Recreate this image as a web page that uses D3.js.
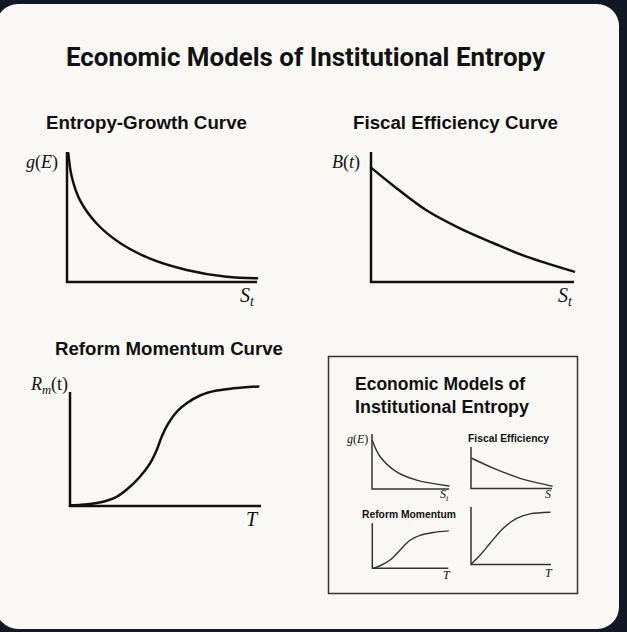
<!DOCTYPE html>
<html>
<head>
<meta charset="utf-8">
<script src="https://cdn.jsdelivr.net/npm/d3@7"></script>
<style>
  html, body { margin: 0; padding: 0; background: #121826; }
  svg { display: block; }
</style>
</head>
<body>
<script>
// chart text
var mainTitle = "Economic Models of Institutional Entropy"
var panelTitles = ["Entropy-Growth Curve", "Fiscal Efficiency Curve", "Reform Momentum Curve"]
var insetTitle = ["Economic Models of", "Institutional Entropy"]
var miniTitles = ["Fiscal Efficiency", "Reform Momentum"]

// curves, x in [0,10], y in [0,1]
var entropyX = [0.07, 0.25, 0.68, 1.56, 2.79, 4.37, 6.30, 8.40, 10]
var entropyY = [0.99, 0.81, 0.63, 0.45, 0.30, 0.18, 0.093, 0.04, 0.028]

var fiscalX = [0, 1.07, 2.71, 4.38, 6.02, 7.66, 10]
var fiscalY = [0.88, 0.745, 0.554, 0.413, 0.30, 0.195, 0.08]

var reformX = [0, 0.6, 1.22, 1.83, 2.44, 3.05, 3.66, 4.19, 4.54, 4.80, 5.15, 5.59, 6.11, 6.81, 7.68, 8.55, 9.86]
var reformY = [0.005, 0.01, 0.02, 0.036, 0.07, 0.136, 0.225, 0.328, 0.431, 0.533, 0.636, 0.725, 0.79, 0.85, 0.888, 0.905, 0.92]

// small copies inside the inset box
var miniEntropyX = [0.05, 1.0, 3.2, 5.8, 10]
var miniEntropyY = [0.88, 0.6, 0.31, 0.16, 0.055]

var miniFiscalX = [0.09, 2.75, 6.05, 10]
var miniFiscalY = [0.55, 0.37, 0.185, 0.045]

var miniReformX = [0.13, 1.23, 2.33, 3.64, 4.96, 6.28, 8.03, 10]
var miniReformY = [0, 0.06, 0.15, 0.33, 0.51, 0.6, 0.65, 0.68]

var miniGrowthX = [0.09, 1.13, 2.38, 4.04, 5.71, 7.38, 9.88]
var miniGrowthY = [0.02, 0.17, 0.385, 0.66, 0.84, 0.92, 0.95]

var width = 627, height = 632
var ink = "#111"

var svg = d3.select("body").append("svg")
    .attr("width", width)
    .attr("height", height)

svg.append("rect")
    .attr("width", width).attr("height", height)
    .attr("fill", "#121826")

svg.append("rect")
    .attr("x", -4).attr("y", 4)
    .attr("width", 623).attr("height", 625)
    .attr("rx", 22)
    .attr("fill", "#f9f8f4")

svg.append("text")
    .attr("x", 305.5).attr("y", 66)
    .attr("text-anchor", "middle")
    .attr("font-family", "Roboto, 'Liberation Sans', sans-serif")
    .attr("font-weight", 700)
    .attr("font-size", 26)
    .attr("textLength", 479)
    .attr("lengthAdjust", "spacingAndGlyphs")
    .attr("fill", ink)
    .text(mainTitle)

function zip(xs, ys) {
    return xs.map(function (x, i) { return [x, ys[i]] })
}

// draw one small plot: two axis lines and a curve
function plot(g, opt) {
    var x = d3.scaleLinear().domain([0, 10]).range([opt.x0, opt.x1])
    var y = d3.scaleLinear().domain([0, 1]).range([opt.y0, opt.y0 - opt.h])

    g.append("path")
        .attr("d", d3.line()([[x(0), y(opt.top)], [x(0), y(0)], [x(10), y(0)]]))
        .attr("fill", "none")
        .attr("stroke", opt.axisColor || ink)
        .attr("stroke-width", opt.axisWidth)
        .attr("stroke-linejoin", "miter")

    var line = d3.line()
        .x(function (d) { return x(d[0]) })
        .y(function (d) { return y(d[1]) })
        .curve(d3.curveCatmullRom.alpha(0.5))

    g.append("path")
        .attr("d", line(opt.data))
        .attr("fill", "none")
        .attr("stroke", opt.curveColor || ink)
        .attr("stroke-width", opt.curveWidth)
        .attr("stroke-linecap", "round")
    return {x: x, y: y}
}

// math-style label: array of [text, italic, sub, back-up]
function mathLabel(g, px, py, size, parts, anchor) {
    var t = g.append("text")
        .attr("x", px).attr("y", py)
        .attr("text-anchor", anchor || "start")
        .attr("font-family", "'Liberation Serif', 'DejaVu Serif', serif")
        .attr("font-size", size)
        .attr("fill", ink)
    parts.forEach(function (p) {
        var s = t.append("tspan")
            .attr("font-style", p[1] ? "italic" : "normal")
            .text(p[0])
        if (p[2]) {
            s.attr("font-size", size * 0.7).attr("dy", size * 0.22)
        }
        if (p[3]) {
            s.attr("dy", -size * 0.22)
        }
    })
}

function heading(g, px, py, size, txt, len, anchor) {
    var t = g.append("text")
        .attr("x", px).attr("y", py)
        .attr("text-anchor", anchor || "start")
        .attr("font-family", "'Liberation Sans', Arial, sans-serif")
        .attr("font-weight", 700)
        .attr("font-size", size)
        .attr("fill", ink)
        .text(txt)
    if (len) t.attr("textLength", len).attr("lengthAdjust", "spacingAndGlyphs")
    return t
}

var main = svg.append("g")

// panel 1
heading(main, 46, 129, 18, panelTitles[0], 201)
plot(main, {x0: 67, x1: 257, y0: 282, h: 130, top: 1.0, data: zip(entropyX, entropyY), axisWidth: 2.5, curveWidth: 2.5})
mathLabel(main, 26, 168, 18, [["g", true], ["(", false], ["E", true], [")", false]])
mathLabel(main, 240, 302, 20, [["S", true], ["t", true, true]])

// panel 2
heading(main, 353, 129, 18, panelTitles[1], 205)
plot(main, {x0: 371, x1: 574, y0: 282, h: 130, top: 1.0, data: zip(fiscalX, fiscalY), axisWidth: 2.5, curveWidth: 2.5})
mathLabel(main, 332, 168, 18, [["B", true], ["(", false], ["t", true], [")", false]])
mathLabel(main, 558, 302, 20, [["S", true], ["t", true, true]])

// panel 3
heading(main, 55, 355, 18, panelTitles[2], 228)
plot(main, {x0: 70, x1: 261, y0: 506, h: 130, top: 0.877, data: zip(reformX, reformY), axisWidth: 2.5, curveWidth: 2.5})
mathLabel(main, 31, 390, 18, [["R", true], ["m", true, true], ["(t)", false, false, true]])
mathLabel(main, 246, 526, 20, [["T", true]])

// inset box
var inset = svg.append("g")
inset.append("rect")
    .attr("x", 328.5).attr("y", 356.5)
    .attr("width", 249).attr("height", 237)
    .attr("fill", "none")
    .attr("stroke", "#333")
    .attr("stroke-width", 1.5)

heading(inset, 355, 390, 18, insetTitle[0], 170)
heading(inset, 355, 413, 18, insetTitle[1], 174)

var miniStyle = {axisWidth: 1.5, curveWidth: 1.4, axisColor: "#333", curveColor: "#333"}

plot(inset, Object.assign({x0: 372, x1: 449, y0: 489, h: 55, top: 1.0, data: zip(miniEntropyX, miniEntropyY)}, miniStyle))
mathLabel(inset, 347, 443, 12, [["g", true], ["(", false], ["E", true], [")", false]])
mathLabel(inset, 440, 498, 12, [["S", true], ["t", true, true]])

heading(inset, 468, 442, 11, miniTitles[0], 81)
plot(inset, Object.assign({x0: 471, x1: 552, y0: 488.5, h: 55, top: 0.755, data: zip(miniFiscalX, miniFiscalY)}, miniStyle))
mathLabel(inset, 545, 498, 12, [["S", true]])

heading(inset, 362, 518, 11, miniTitles[1], 94)
plot(inset, Object.assign({x0: 372.3, x1: 448.3, y0: 568.3, h: 55, top: 0.82, data: zip(miniReformX, miniReformY)}, miniStyle))
mathLabel(inset, 443, 579, 12, [["T", true]])

plot(inset, Object.assign({x0: 471, x1: 551, y0: 564.5, h: 55, top: 1.045, data: zip(miniGrowthX, miniGrowthY)}, miniStyle))
mathLabel(inset, 545, 577, 12, [["T", true]])
</script>
</body>
</html>
